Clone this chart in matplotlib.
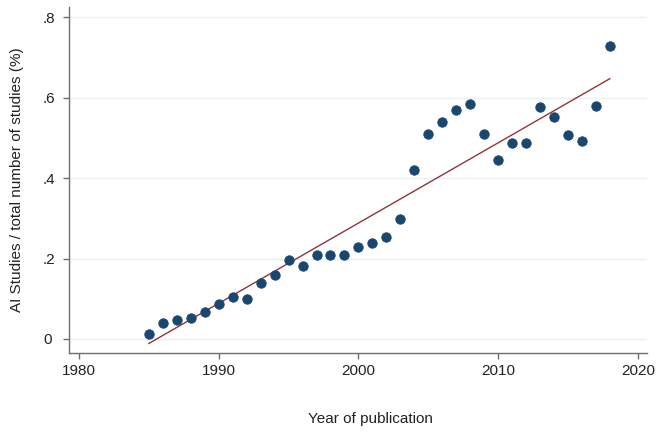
import matplotlib.pyplot as plt
import numpy as np

plt.rcParams['font.family'] = ['Liberation Sans', 'DejaVu Sans']

# share of AI studies per year
years = np.arange(1985, 2019)
share = [0.012, 0.040, 0.047, 0.051, 0.066, 0.086, 0.104, 0.100, 0.139, 0.160,
         0.197, 0.181, 0.208, 0.208, 0.209, 0.230, 0.240, 0.254, 0.298, 0.420,
         0.509, 0.540, 0.569, 0.585, 0.509, 0.445, 0.488, 0.488, 0.578, 0.553,
         0.507, 0.493, 0.579, 0.729]
xticks = [1980, 1990, 2000, 2010, 2020]
yticks = [0, 0.2, 0.4, 0.6, 0.8]
ytick_labels = ['0', '.2', '.4', '.6', '.8']

# linear fit
slope, icept = np.polyfit(years, share, 1)
fit = slope * years + icept

fig = plt.figure(figsize=(6.61, 4.38), dpi=100)
ax = fig.add_axes([68.7/661, 1 - 353.3/438, (647 - 68.7)/661, (353.3 - 7)/438])

for y in yticks:
    ax.axhline(y, color='#eaf2f3', lw=1.0, zorder=0)

ax.plot(years, share, 'o', color='#1a476f', markersize=6.8,
        markeredgecolor='#1a476f', markeredgewidth=0.6, zorder=3)
ax.plot(years, fit, '-', color='#90353b', lw=1.0, zorder=2)

ax.set_xlim(1979.26, 2020.66)
ax.set_ylim(-0.0356, 0.826)
ax.set_xticks(xticks)
ax.set_yticks(yticks)
ax.set_yticklabels(ytick_labels)

for s in ['top', 'right']:
    ax.spines[s].set_visible(False)
for s in ['left', 'bottom']:
    ax.spines[s].set_color('#6e6e6e')
    ax.spines[s].set_linewidth(1.0)
ax.tick_params(direction='out', length=4.5, width=1.0, color='#6e6e6e',
               labelsize=11, labelcolor='#222222')
ax.tick_params(axis='x', pad=3)
# y tick labels are left aligned in the original
ax.tick_params(axis='y', pad=14)
for lab in ax.get_yticklabels():
    lab.set_horizontalalignment('left')

ax.set_xlabel('Year of publication', fontsize=11, color='#222222')
ax.xaxis.set_label_coords(0.521, -0.1695)
ax.set_ylabel('AI Studies / total number of studies (%)', fontsize=11,
              color='#222222')
ax.yaxis.set_label_coords(-0.078, 0.5)

fig.savefig('out.png', dpi=100)
